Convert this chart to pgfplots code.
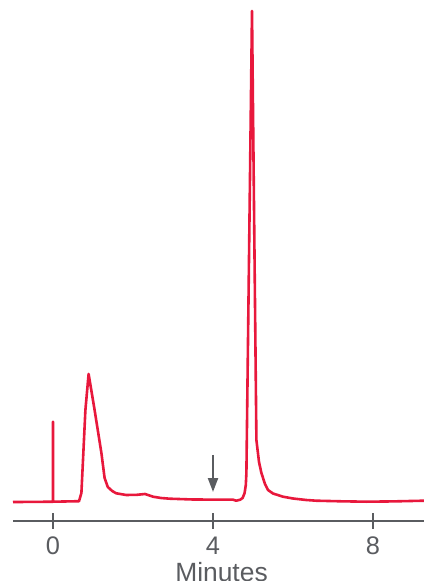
\documentclass[border=0pt]{standalone}
\usepackage{pgfplots}
\pgfplotsset{compat=1.18}
\usepackage{fontspec}
\setmainfont{Liberation Sans}
\usetikzlibrary{arrows.meta}
\definecolor{crim}{HTML}{E8183C}
\definecolor{axgray}{HTML}{5A5C60}
\begin{document}
\begin{tikzpicture}
\begin{axis}[
  scale only axis, width=411bp, height=520.7bp,
  xmin=-1.0, xmax=9.275, ymin=-18.7, ymax=502,
  axis x line=bottom, axis y line=none,
  axis line style={-, axgray, line width=2.2bp},
  xtick={0,4,8}, ytick=\empty,
  major tick length=16bp, tick align=center,
  tick style={axgray, line width=2.2bp},
  /pgf/number format/assume math mode=true,
  xticklabel style={font=\fontsize{25.5}{25.5}\selectfont, text=axgray, anchor=base, yshift=-25.3bp},
  xlabel={Minutes},
  xlabel style={at={(rel axis cs:0.5,0)}, anchor=base, yshift=-61bp, xshift=3bp, font=\fontsize{26.5}{26.5}\selectfont, text=axgray},
  clip=false,
]
\addplot[crim, line width=2.6bp, line join=round, line cap=butt] coordinates {
(-1.0,0) (-0.5,0.1) (0,0.3) (0,80.3) (0,0.3)
(0.4,0.6) (0.65,0.8) (0.71,9) (0.75,42) (0.81,92) (0.89,128)
(1.04,92) (1.21,49) (1.29,24) (1.37,15) (1.48,11) (1.58,8.7) (1.83,7)
(2.1,7.2) (2.3,8) (2.5,5.3) (2.7,4) (2.92,3.3) (3.5,2.5) (4.5,2.3)
(4.58,1.3) (4.68,2.3) (4.74,4) (4.79,9) (4.82,17) (4.835,29)
(4.975,491) (5.085,62) (5.15,40) (5.21,29) (5.3,18) (5.375,12)
(5.5,8.5) (5.75,5.3) (6.0,3.5) (6.33,2) (6.58,1.3) (7.2,0.7) (7.83,0.3)
(8.5,0.6) (9.275,1.3)
};
\draw[axgray, line width=2.2bp, -{Triangle[length=14bp,width=10bp]}] (axis cs:4,47) -- (axis cs:4,10);
\coordinate (bl) at (rel axis cs:0,0);
\coordinate (tr) at (rel axis cs:1,1);
\end{axis}
\pgfresetboundingbox
\path (bl) ++(-13bp,-60.3bp) rectangle (tr);
\end{tikzpicture}
\end{document}
